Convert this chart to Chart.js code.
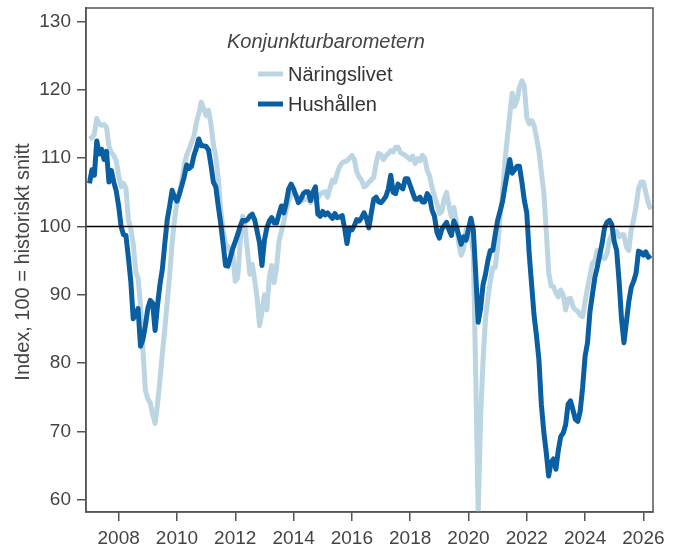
<!DOCTYPE html>
<html lang="sv">
<head>
<meta charset="utf-8">
<title>Konjunkturbarometern</title>
<script src="https://cdn.jsdelivr.net/npm/chart.js@4.4.0/dist/chart.umd.min.js"></script>
<style>
  html, body { margin: 0; padding: 0; background: #fff; }
  #chart { display: block; }
</style>
</head>
<body>
<canvas id="chart" width="682" height="547"></canvas>
<script>
// ─── DATA ───────────────────────────────────────────────────────────────────
// Månadsvärden, första värdet = januari 2007
const startYear = 2007;

const naringslivet = [
  112.8, 113.0, 113.5, 115.8, 115.0, 114.8, 114.9, 114.5, 111.8, 110.8, 110.4, 109.6,
  107.5, 105.8, 106.3, 105.6, 101.0, 99.6, 97.5, 93.5, 92.4, 88.5, 82.0, 76.0,
  74.8, 74.2, 72.5, 71.2, 74.0, 77.5, 81.5, 85.0, 89.0, 93.0, 97.5, 101.0,
  103.5, 104.5, 106.5, 109.0, 110.4, 111.3, 112.3, 113.2, 115.2, 116.5, 118.2, 117.2,
  116.2, 117.0, 115.0, 112.0, 110.2, 107.0, 102.5, 99.5, 97.5, 97.0, 96.3, 96.0,
  92.0, 92.5, 97.5, 101.5, 100.0, 96.5, 93.0, 94.5, 92.2, 89.5, 85.5, 87.5,
  90.0, 87.8, 92.5, 94.3, 91.8, 94.0, 97.8, 99.3, 100.8, 102.5, 103.8, 104.7,
  105.0, 104.6, 104.3, 103.7, 103.9, 104.0, 103.9, 103.5, 104.1, 103.8, 104.2, 104.7,
  105.0, 105.1, 104.3, 105.6, 106.8, 106.5, 107.8, 108.8, 109.3, 109.5, 109.6, 110.0,
  110.4, 109.8, 108.0, 107.2, 106.8, 105.8, 106.0, 106.5, 106.8, 107.2, 109.3, 110.7,
  110.5, 109.8, 110.3, 110.7, 111.1, 110.9, 111.6, 111.6, 110.8, 110.6, 110.4, 110.1,
  109.8, 110.3, 109.2, 109.9, 109.6, 110.4, 110.0, 108.2, 107.4, 105.8, 104.4, 103.4,
  101.9, 102.2, 104.0, 105.0, 103.0, 101.4, 102.8, 100.8, 97.5, 95.8, 96.8, 99.5,
  98.5, 99.0, 96.0, 78.0, 58.0, 72.0, 80.5, 86.5, 89.5, 92.0, 94.0, 94.0,
  97.0, 101.5, 104.5, 109.5, 113.0, 116.3, 119.5, 117.6, 118.5, 120.4, 121.3, 120.5,
  116.0, 115.0, 115.5, 114.8, 113.0, 111.0, 108.0, 105.0, 99.5, 93.3, 91.3, 91.2,
  90.3, 89.7, 90.7, 90.0, 87.8, 89.4, 89.5, 88.3, 87.8, 87.6, 87.0, 86.8,
  89.0, 91.0, 92.8, 94.6, 95.0, 96.5, 95.5, 95.6, 95.3, 96.0, 98.0, 98.8,
  99.3, 99.3, 98.5, 98.8, 98.8, 97.0, 96.5, 99.5, 101.0, 103.0, 105.5, 106.5,
  106.5, 105.0, 103.5, 102.5
];

const hushallen = [
  106.3, 108.3, 107.5, 112.5, 110.6, 111.3, 109.8, 111.0, 106.5, 108.2, 106.5, 105.2,
  103.0, 100.0, 98.8, 98.7, 95.5, 92.0, 86.5, 87.3, 88.0, 82.5, 83.5, 85.5,
  88.0, 89.2, 88.8, 84.8, 88.5, 91.5, 93.8, 97.5, 101.0, 103.0, 105.3, 104.3,
  103.7, 104.8, 106.0, 107.3, 109.0, 108.5, 108.8, 110.4, 111.5, 112.8, 111.8, 111.8,
  111.7, 111.2, 109.0, 106.5, 105.8, 103.0, 100.5, 97.5, 94.3, 94.2, 95.5, 96.8,
  97.8, 98.8, 100.0, 100.9, 100.8, 101.0, 101.5, 101.8, 101.0, 99.3, 97.6, 94.3,
  98.0, 99.8, 100.8, 101.3, 100.5, 100.5, 101.8, 103.0, 102.0, 103.5, 105.5, 106.2,
  105.5, 104.5, 103.5, 104.0, 104.8, 105.1, 105.1, 103.8, 105.0, 105.8, 101.8, 101.5,
  102.2, 101.7, 102.0, 101.6, 101.2, 101.9, 101.3, 101.4, 101.6, 99.8, 97.5, 99.8,
  99.5, 100.1, 101.0, 100.8, 101.3, 102.0, 101.2, 99.8, 102.0, 104.0, 104.3, 103.6,
  103.5, 103.9, 104.4, 105.5, 107.5, 105.0, 104.8, 106.2, 105.8, 105.5, 107.0, 107.0,
  106.0, 105.0, 104.0, 104.0, 104.3, 103.6, 103.6, 104.8, 104.3, 102.4, 101.5, 99.2,
  98.3, 99.6, 100.1, 100.6, 99.5, 98.7, 100.8, 100.0, 98.7, 97.4, 98.5, 98.0,
  99.6, 101.2, 99.5, 93.0, 86.0, 88.0, 91.5, 93.0, 95.0, 96.5, 96.5, 98.8,
  100.9, 102.2, 103.6, 105.8, 107.8, 109.8, 107.8, 108.3, 108.8, 108.8, 106.5, 103.8,
  102.0, 96.0, 91.5, 87.0, 84.0, 80.5, 74.0, 70.0, 67.0, 63.5, 65.5, 66.0,
  64.5, 67.3, 69.3, 69.8, 71.0, 74.0, 74.5, 73.2, 71.8, 71.5, 73.0, 76.5,
  81.0, 83.0, 87.5, 90.0, 92.5, 94.0, 95.8, 97.5, 99.8, 100.6, 100.9, 100.3,
  97.8, 96.5, 92.0, 86.5, 83.0, 86.0, 89.0, 91.1, 92.0, 93.2, 96.4, 96.2,
  95.8, 96.3, 95.5, 95.8
];

const seriesNames = ['Näringslivet', 'Hushållen'];
const legendTitle = 'Konjunkturbarometern';
const yTitle = 'Index, 100 = historiskt snitt';

const xTicks = [2008, 2010, 2012, 2014, 2016, 2018, 2020, 2022, 2024, 2026];
const yTicks = [60, 70, 80, 90, 100, 110, 120, 130];
const xRange = [2006.88, 2026.33];
const yRange = [58.24, 131.96];
const refValue = 100;

// ─── STIL ───────────────────────────────────────────────────────────────────
const LIGHT = '#bcd5e2';
const DARK = '#0a5ea2';
const AXIS = '#555555';
const TEXT = '#444444';
const FONT = '"Liberation Sans", Arial, sans-serif';

const toPoints = arr => arr.map((v, i) => ({ x: startYear + i / 12, y: v }));

// ─── PLUGIN: ram, 100-linje, legend och y-titel ─────────────────────────────
const decorPlugin = {
  id: 'decor',
  afterDatasetsDraw(chart) {
    const { ctx, chartArea: a, scales } = chart;
    const y100 = scales.y.getPixelForValue(refValue);
    ctx.save();
    ctx.strokeStyle = '#000';
    ctx.lineWidth = 1.5;
    ctx.beginPath();
    ctx.moveTo(a.left, y100);
    ctx.lineTo(a.right, y100);
    ctx.stroke();

    ctx.strokeStyle = AXIS;
    ctx.lineWidth = 1.5;
    ctx.strokeRect(a.left, a.top, a.right - a.left, a.bottom - a.top);
    ctx.restore();
  },
  afterDraw(chart) {
    const { ctx } = chart;
    ctx.save();
    // legend
    ctx.fillStyle = TEXT;
    ctx.textBaseline = 'middle';
    ctx.textAlign = 'left';
    ctx.font = 'italic 20px ' + FONT;
    ctx.fillText(legendTitle, 227, 42);

    ctx.font = '20px ' + FONT;
    [[LIGHT, 74], [DARK, 104]].forEach(([c, y], i) => {
      ctx.strokeStyle = c;
      ctx.lineWidth = 5;
      ctx.beginPath();
      ctx.moveTo(258, y);
      ctx.lineTo(283, y);
      ctx.stroke();
      ctx.fillStyle = '#333';
      ctx.fillText(seriesNames[i], 288, y + 1);
    });

    // y-axelns titel
    ctx.translate(23, 262);
    ctx.rotate(-Math.PI / 2);
    ctx.textAlign = 'center';
    ctx.fillStyle = TEXT;
    ctx.fillText(yTitle, 0, 0);
    ctx.restore();
  }
};

new Chart(document.getElementById('chart'), {
  type: 'line',
  data: {
    datasets: [
      {
        label: seriesNames[1],
        data: toPoints(hushallen),
        borderColor: DARK,
        borderWidth: 5,
        order: 1,
        clip: 0
      },
      {
        label: seriesNames[0],
        data: toPoints(naringslivet),
        borderColor: LIGHT,
        borderWidth: 5,
        order: 2,
        clip: 0
      }
    ]
  },
  options: {
    responsive: false,
    animation: false,
    devicePixelRatio: 1,
    layout: { padding: { top: 8, right: 29, left: 0, bottom: 0 } },
    elements: {
      point: { radius: 0, hoverRadius: 0 },
      line: { tension: 0, borderJoinStyle: 'round', fill: false }
    },
    plugins: {
      legend: { display: false },
      tooltip: { enabled: false }
    },
    scales: {
      x: {
        type: 'linear',
        min: xRange[0],
        max: xRange[1],
        afterBuildTicks: s => { s.ticks = xTicks.map(v => ({ value: v })); },
        afterFit: s => { s.height = 35; s.paddingLeft = 0; s.paddingRight = 0; },
        grid: { drawOnChartArea: false, tickLength: 9, color: AXIS, lineWidth: 1.5 },
        border: { color: AXIS, width: 1.5 },
        ticks: {
          color: TEXT,
          font: { family: FONT, size: 19 },
          padding: 6,
          maxRotation: 0,
          autoSkip: false,
          callback: v => String(v)
        }
      },
      y: {
        min: yRange[0],
        max: yRange[1],
        afterBuildTicks: s => { s.ticks = yTicks.map(v => ({ value: v })); },
        afterFit: s => { s.width = 86; s.paddingTop = 0; s.paddingBottom = 0; },
        grid: { drawOnChartArea: false, tickLength: 9, color: AXIS, lineWidth: 1.5 },
        border: { color: AXIS, width: 1.5 },
        ticks: {
          color: TEXT,
          font: { family: FONT, size: 19 },
          padding: 6,
          autoSkip: false,
          callback: v => String(v)
        }
      }
    }
  },
  plugins: [decorPlugin]
});
</script>
</body>
</html>
